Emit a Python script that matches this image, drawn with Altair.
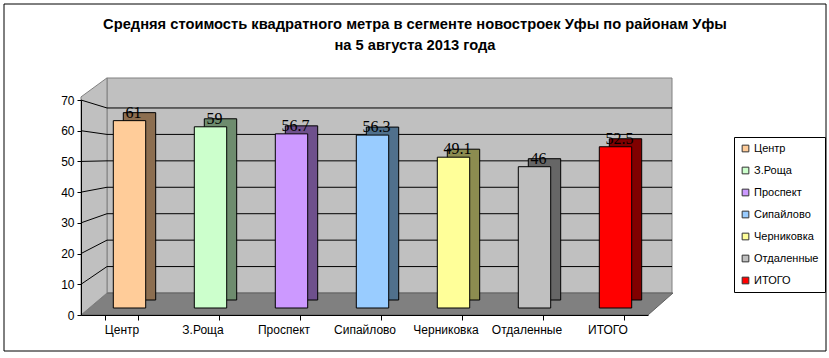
import altair as alt
import pandas as pd

# ---- data -------------------------------------------------------------
categories = ["Центр", "З.Роща", "Проспект", "Сипайлово", "Черниковка", "Отдаленные", "ИТОГО"]
values = [61, 59, 56.7, 56.3, 49.1, 46, 52.5]
value_labels = ["61", "59", "56.7", "56.3", "49.1", "46", "52.5"]
front_colors = ["#FFCC99", "#CCFFCC", "#CC99FF", "#99CCFF", "#FFFF99", "#C0C0C0", "#FF0000"]
side_colors = ["#8C6E50", "#6E8C6E", "#6E508C", "#50708C", "#8C8C50", "#666666", "#800000"]
y_ticks = [0, 10, 20, 30, 40, 50, 60, 70]
title_line1 = "Средняя стоимость квадратного метра в сегменте новостроек Уфы по районам Уфы"
title_line2 = "на 5 августа 2013 года"

bars = pd.DataFrame({
    "cat": categories,
    "val": values,
    "lab": value_labels,
    "side": side_colors,
})

W, H = 567, 215
FONT = "Liberation Sans"
yscale = alt.Scale(domain=[0, 70], nice=False, zero=True)
xscale = alt.Scale(domain=categories, paddingInner=0.6, paddingOuter=0.3)
y_axis = alt.Axis(title=None, values=y_ticks, grid=False, domainColor="black",
                  tickColor="black", tickSize=4, labelFont=FONT, labelFontSize=12,
                  labelColor="black", labelPadding=3, zindex=2)

one = pd.DataFrame({"k": [0]})

# ---- decorative 3-D box (walls / floor) -------------------------------
frame = alt.Chart(one).mark_rect(filled=False, stroke="black", strokeWidth=1).encode(
    x=alt.value(-77), x2=alt.value(745), y=alt.value(-96), y2=alt.value(251)
)
back_wall = alt.Chart(one).mark_rect(fill="#C0C0C0", stroke="#808080", strokeWidth=1).encode(
    x=alt.value(26), x2=alt.value(591), y=alt.value(-22), y2=alt.value(193)
)
floor_df = pd.DataFrame({"px": [0, 26, 567, 592], "top": [0, 7.16, 7.16, 7.16], "bot": [0, 0, 0, 7.16]})
floor = alt.Chart(floor_df).mark_area(fill="#808080", stroke="#606060", strokeWidth=1).encode(
    x=alt.X("px:Q", scale=None, axis=None),
    y=alt.Y("top:Q", scale=yscale, axis=y_axis),
    y2="bot:Q",
)
lwall_df = pd.DataFrame({"px": [0, 26], "top": [71, 77.2], "bot": [0, 7.16]})
left_wall = alt.Chart(lwall_df).mark_area(fill="#C0C0C0", stroke="#808080", strokeWidth=1).encode(
    x=alt.X("px:Q", scale=None, axis=None),
    y=alt.Y("top:Q", scale=yscale, axis=y_axis),
    y2="bot:Q",
)
grid_df = pd.DataFrame({"g": y_ticks[1:]})
grid = alt.Chart(grid_df).transform_calculate(v2="7.16 + 0.8606*datum.g").mark_rule(
    color="black", strokeWidth=1
).encode(x=alt.value(26), x2=alt.value(591), y=alt.Y("v2:Q", scale=yscale, axis=y_axis))
diag = alt.Chart(grid_df).transform_calculate(v2="7.16 + 0.8606*datum.g").mark_rule(
    color="black", strokeWidth=1
).encode(x=alt.value(0), x2=alt.value(26), y=alt.Y("g:Q", scale=yscale, axis=y_axis), y2="v2:Q")

# ---- bars -------------------------------------------------------------
side = alt.Chart(bars).mark_bar(stroke="black", strokeWidth=1, xOffset=18, yOffset=-15).encode(
    x=alt.X("cat:N", scale=xscale, sort=categories, axis=None),
    y=alt.Y("val:Q", scale=yscale, axis=y_axis),
    color=alt.Color("side:N", scale=None, legend=None),
)
front = alt.Chart(bars).mark_bar(stroke="black", strokeWidth=1, xOffset=8, yOffset=-7, opacity=1).encode(
    x=alt.X("cat:N", scale=xscale, sort=categories,
            axis=alt.Axis(title=None, labelAngle=0, domainColor="black", tickColor="black",
                          tickSize=5, tickBand="extent", labelFont=FONT, labelFontSize=12,
                          labelColor="black", labelPadding=4, grid=False, zindex=2)),
    y=alt.Y("val:Q", scale=yscale, axis=y_axis),
    fill=alt.Fill("cat:N", scale=alt.Scale(domain=categories, range=front_colors), sort=categories,
                  legend=alt.Legend(title=None, orient="none", legendX=653, legendY=37,
                                    direction="vertical", symbolType="square", symbolSize=45,
                                    symbolStrokeColor="#333333", symbolStrokeWidth=1,
                                    labelFont=FONT, labelFontSize=11, labelColor="black",
                                    padding=6, strokeColor="black", fillColor="white",
                                    rowPadding=10, labelOffset=3, cornerRadius=0)),
)
text = alt.Chart(bars).mark_text(font="Liberation Serif", fontSize=16, xOffset=12, yOffset=-15,
                                 baseline="middle", color="black").encode(
    x=alt.X("cat:N", scale=xscale, sort=categories, axis=None),
    y=alt.Y("val:Q", scale=yscale, axis=y_axis),
    text="lab:N",
)

t1 = alt.Chart(one).mark_text(font=FONT, fontSize=14.7, fontWeight="bold", color="black",
                              align="center", baseline="middle").encode(
    x=alt.value(334), y=alt.value(-75), text=alt.value(title_line1))
t2 = alt.Chart(one).mark_text(font=FONT, fontSize=14.7, fontWeight="bold", color="black",
                              align="center", baseline="middle").encode(
    x=alt.value(334), y=alt.value(-54), text=alt.value(title_line2))

chart = alt.layer(frame, back_wall, floor, left_wall, grid, diag, side, front, text, t1, t2).resolve_scale(
    x="independent", color="independent", fill="independent"
).properties(
    width=W, height=H,
    padding={"left": 81, "top": 100, "right": 181, "bottom": 43},
    autosize=alt.AutoSizeParams(type="none"),
    background="white",
).configure_view(stroke=None)

chart.save("out.html", embed_options={"renderer": "svg", "actions": False})
